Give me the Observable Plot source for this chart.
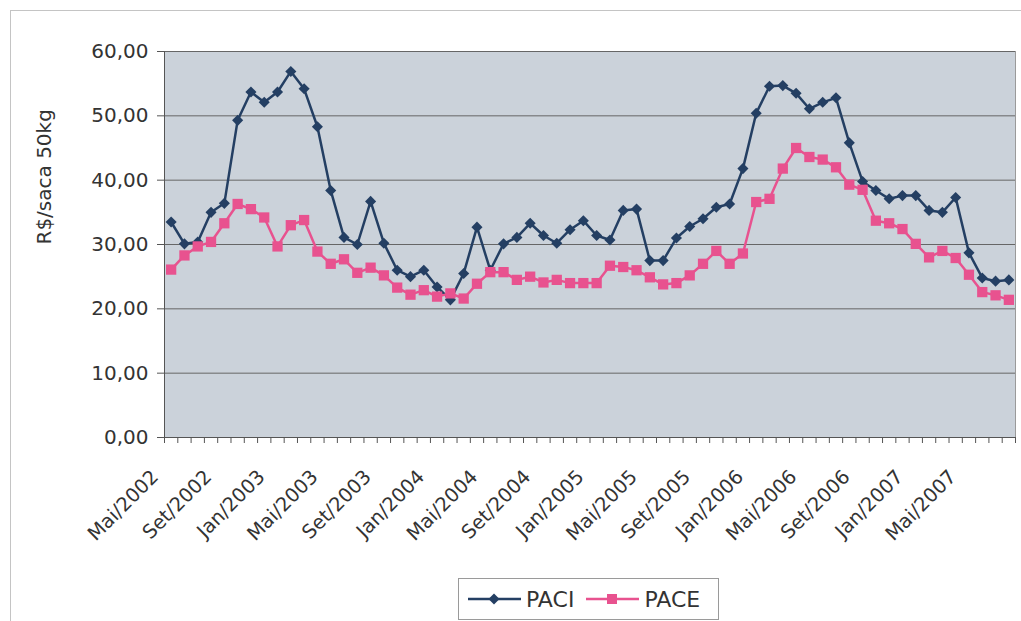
<!DOCTYPE html>
<html>
<head>
<meta charset="utf-8">
<script src="https://cdn.jsdelivr.net/npm/d3@7"></script>
<script src="https://cdn.jsdelivr.net/npm/@observablehq/plot@0.6"></script>
<style>
  html, body { margin: 0; padding: 0; background: #fff; }
  body { width: 1021px; height: 621px; overflow: hidden; position: relative; font-family: "DejaVu Sans", sans-serif; }
  #frame { position: absolute; left: 10px; top: 10px; width: 1100px; height: 700px; border: 1px solid #c4c4c4; }
  #chart { position: absolute; left: 0; top: 0; }
  #legend { position: absolute; left: 458px; top: 578px; width: 261px; height: 42px; box-sizing: border-box;
            border: 1px solid #9a9a9a; background: #fff; display: flex; align-items: center; padding-left: 9px;
            font-size: 22px; color: #333; }
  #legend .item { display: flex; align-items: center; margin-right: 12px; }
  #legend svg { margin-right: 5px; }
</style>
</head>
<body>
<div id="frame"></div>
<div id="chart"></div>
<div id="legend"></div>
<script>
const months = [
  "Mai/2002","Jun/2002","Jul/2002","Ago/2002","Set/2002","Out/2002","Nov/2002","Dez/2002",
  "Jan/2003","Fev/2003","Mar/2003","Abr/2003","Mai/2003","Jun/2003","Jul/2003","Ago/2003",
  "Set/2003","Out/2003","Nov/2003","Dez/2003","Jan/2004","Fev/2004","Mar/2004","Abr/2004",
  "Mai/2004","Jun/2004","Jul/2004","Ago/2004","Set/2004","Out/2004","Nov/2004","Dez/2004",
  "Jan/2005","Fev/2005","Mar/2005","Abr/2005","Mai/2005","Jun/2005","Jul/2005","Ago/2005",
  "Set/2005","Out/2005","Nov/2005","Dez/2005","Jan/2006","Fev/2006","Mar/2006","Abr/2006",
  "Mai/2006","Jun/2006","Jul/2006","Ago/2006","Set/2006","Out/2006","Nov/2006","Dez/2006",
  "Jan/2007","Fev/2007","Mar/2007","Abr/2007","Mai/2007","Jun/2007","Jul/2007","Ago/2007"
];
const paci = [
  33.5,30.1,30.4,35.0,36.4,49.3,53.7,52.1,53.7,56.9,
  54.2,48.3,38.4,31.1,30.0,36.7,30.2,26.0,25.0,26.0,
  23.4,21.4,25.5,32.7,26.0,30.1,31.1,33.3,31.4,30.2,
  32.3,33.7,31.4,30.7,35.3,35.5,27.5,27.5,31.0,32.8,
  34.0,35.8,36.3,41.8,50.4,54.6,54.7,53.5,51.1,52.1,
  52.8,45.8,39.8,38.4,37.1,37.6,37.6,35.3,35.0,37.3,
  28.7,24.8,24.3,24.5
];
const pace = [
  26.1,28.3,29.7,30.4,33.3,36.3,35.5,34.2,29.7,33.0,
  33.8,28.9,27.0,27.7,25.6,26.4,25.2,23.3,22.2,22.9,
  21.9,22.4,21.6,23.9,25.7,25.7,24.5,25.0,24.1,24.5,
  24.0,24.0,24.0,26.7,26.5,26.0,24.9,23.8,24.0,25.2,
  27.0,29.0,27.0,28.6,36.6,37.1,41.8,45.0,43.6,43.2,
  42.0,39.3,38.5,33.7,33.3,32.4,30.1,28.0,29.0,27.9,
  25.3,22.6,22.1,21.4
];
const seriesNames = ["PACI", "PACE"];
const colors = ["#243f63", "#e8528f"];
const yTicks = [0, 10, 20, 30, 40, 50, 60];
const yLabel = "R$/saca 50kg";

const rows = months.map((m, i) => ({i, m, paci: paci[i], pace: pace[i]}));
const labelPos = months.map((m, i) => i).filter(i => i % 4 === 0).map(i => i + 0.5);
const H = 575;

const chart = Plot.plot({
  width: 1021, height: H,
  marginLeft: 164, marginRight: 6, marginTop: 51, marginBottom: H - 437,
  style: {fontFamily: "DejaVu Sans", fontSize: "20px", color: "#333", background: "transparent", overflow: "visible"},
  x: {type: "linear", domain: [0, months.length]},
  y: {domain: [0, 60]},
  marks: [
    Plot.frame({fill: "#cbd2da", stroke: null}),
    Plot.gridY(yTicks.slice(1), {stroke: "#666", strokeOpacity: 1, strokeWidth: 1}),
    Plot.ruleX([months.length], {stroke: "#9a9a9a"}),
    Plot.ruleX([0], {stroke: "#555"}),
    Plot.ruleY([0], {stroke: "#555"}),
    Plot.axisY({ticks: yTicks, tickFormat: d => d.toFixed(2).replace(".", ","), tickSize: 7, tickPadding: 9, label: null, stroke: "#555"}),
    Plot.axisX({ticks: d3.range(months.length + 1), tickFormat: () => "", tickSize: 6, label: null, stroke: "#555"}),
    Plot.axisX({ticks: labelPos, tickFormat: v => months[v - 0.5], tickSize: 0, tickRotate: -45, tickPadding: 36, dx: -16, label: null, fontSize: 19.5}),
    Plot.text([yLabel], {frameAnchor: "left", rotate: -90, dx: -120, fontSize: 20, fill: "#333"}),
    Plot.line(rows, {x: d => d.i + 0.5, y: "paci", stroke: colors[0], strokeWidth: 2.5}),
    Plot.dot(rows, {x: d => d.i + 0.5, y: "paci", symbol: "diamond2", r: 5, fill: colors[0], stroke: null}),
    Plot.line(rows, {x: d => d.i + 0.5, y: "pace", stroke: colors[1], strokeWidth: 2.5}),
    Plot.dot(rows, {x: d => d.i + 0.5, y: "pace", symbol: "square", r: 5.8, fill: colors[1], stroke: null})
  ]
});
document.getElementById("chart").append(chart);

const legend = document.getElementById("legend");
const shapes = [
  '<path d="M26,4.5L31.5,10L26,15.5L20.5,10Z" fill="' + colors[0] + '"/>',
  '<rect x="21" y="5" width="10" height="10" fill="' + colors[1] + '"/>'
];
seriesNames.forEach((name, k) => {
  const item = document.createElement("div");
  item.className = "item";
  item.innerHTML = '<svg width="53" height="20"><line x1="0" x2="53" y1="10" y2="10" stroke="' + colors[k] + '" stroke-width="2.5"/>' + shapes[k] + '</svg><span>' + name + '</span>';
  legend.append(item);
});
</script>
</body>
</html>
